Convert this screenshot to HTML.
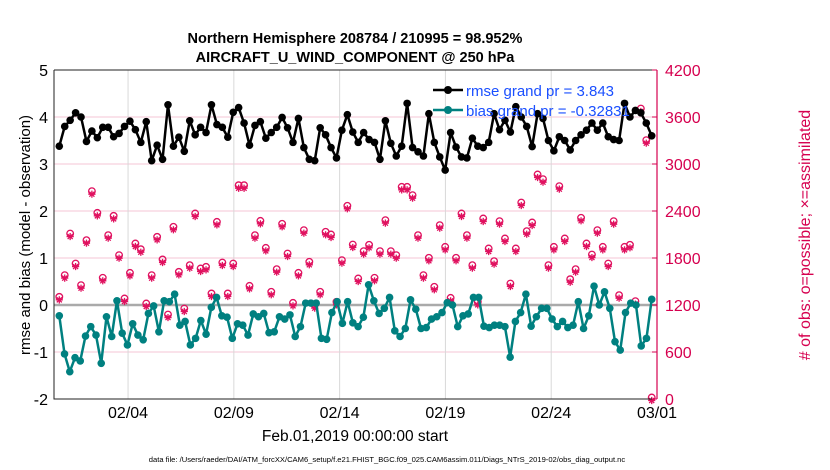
<!DOCTYPE html>
<html><head><meta charset="utf-8"><style>
body{margin:0;background:#fff;}
svg{display:block;font-family:"Liberation Sans",sans-serif;}
</style></head><body>
<svg id="c" width="830" height="470" viewBox="0 0 830 470">
<text x="355" y="43" font-size="14.5" font-weight="bold" text-anchor="middle">Northern Hemisphere 208784 / 210995 = 98.952%</text>
<text x="355" y="62" font-size="14.5" font-weight="bold" text-anchor="middle">AIRCRAFT_U_WIND_COMPONENT @ 250 hPa</text>
<g id="grid"></g><g id="marks"></g><g id="axes"></g>
<text transform="translate(30,235) rotate(-90)" font-size="15" text-anchor="middle">rmse and bias (model - observation)</text>
<text transform="translate(810,235) rotate(-90)" font-size="16" text-anchor="middle" fill="#d6004f"># of obs: o=possible; ×=assimilated</text>
<text x="355" y="441" font-size="15.5" text-anchor="middle">Feb.01,2019 00:00:00 start</text>
<text x="387" y="462" font-size="7.6" text-anchor="middle">data file: /Users/raeder/DAI/ATM_forcXX/CAM6_setup/f.e21.FHIST_BGC.f09_025.CAM6assim.011/Diags_NTrS_2019-02/obs_diag_output.nc</text>
<g>
<line x1="433" y1="90" x2="463" y2="90" stroke="#000" stroke-width="2.5"/>
<circle cx="448" cy="90" r="4" fill="#000"/>
<text x="466" y="96" font-size="15" fill="#1a4fff">rmse grand pr = 3.843</text>
<line x1="433" y1="110" x2="463" y2="110" stroke="#008080" stroke-width="2.5"/>
<circle cx="448" cy="110" r="4" fill="#008080"/>
<text x="466" y="116" font-size="15" fill="#1a4fff">bias grand pr = -0.32831</text>
</g>
</svg>
<script>
const rmse=[3.38,3.8,3.93,4.09,4.0,3.48,3.7,3.56,3.78,3.78,3.58,3.65,3.8,3.91,3.73,3.46,3.9,3.07,3.4,3.1,4.26,3.38,3.57,3.27,3.92,3.62,3.78,3.67,4.26,3.84,3.78,3.57,4.1,4.2,3.87,3.4,3.82,3.9,3.55,3.67,3.78,3.99,3.77,3.46,3.97,3.35,3.1,3.07,3.77,3.62,3.35,3.13,3.72,4.05,3.68,3.46,3.67,
3.52,3.46,3.1,3.92,3.44,3.17,3.38,4.29,3.35,3.26,3.17,4.07,3.46,3.15,2.87,3.67,3.36,3.15,3.13,3.55,3.38,3.35,3.46,4.07,3.73,3.93,3.68,4.22,4.0,3.8,3.37,4.07,3.97,3.5,3.28,3.58,3.5,3.3,3.5,3.62,3.72,3.87,3.72,3.87,3.58,3.52,3.5,4.29,4.0,4.14,4.09,3.87,3.6];
const bias=[-0.23,-1.04,-1.42,-1.12,-1.19,-0.66,-0.46,-0.64,-1.24,-0.25,-0.67,0.09,-0.6,-0.85,-0.4,-0.64,-0.74,-0.18,-0.02,-0.57,0.09,0.07,0.23,-0.43,-0.35,-0.85,-0.71,-0.33,-0.62,-0.05,0.16,-0.23,-0.26,-0.71,-0.4,-0.43,-0.64,-0.19,-0.25,-0.18,-0.59,-0.57,-0.25,-0.3,-0.21,-0.67,-0.46,0.04,0.04,0.04,-0.71,-0.73,-0.16,0.07,-0.39,0.07,-0.38,
-0.46,-0.26,0.43,0.09,-0.18,-0.07,0.16,-0.55,-0.67,-0.5,0.11,-0.09,-0.5,-0.48,-0.3,-0.25,-0.16,0.05,0.0,-0.46,-0.23,-0.19,0.16,0.16,-0.45,-0.48,-0.43,-0.43,-0.46,-1.11,-0.35,-0.16,0.23,-0.45,-0.25,-0.07,-0.07,-0.3,-0.46,-0.35,-0.48,-0.43,0.07,-0.5,-0.23,0.4,0.0,0.28,-0.07,-0.78,-0.96,-0.16,0.04,0.0,-0.87,-0.71,0.12];
const nposs=[1285,1562,2093,1710,1434,2008,2634,2357,1528,2072,2319,1817,1264,1591,1966,1893,1200,1562,2051,1762,1059,2179,1604,1136,1689,2349,1647,1668,1328,2242,1723,1328,1710,2710,2710,1425,2072,2255,1910,1349,1638,2217,1838,1208,1591,2136,1732,1179,1349,2115,2081,1221,1753,2447,1953,1519,1868,
1949,1528,1868,2264,1868,1817,2689,2689,2583,2072,1562,1783,1413,2200,1923,1272,1783,2349,2072,1689,1221,2285,1902,1740,2251,2030,1455,1902,2489,2123,2234,2847,2787,1689,1923,2698,2030,1510,1638,2294,1966,1825,2136,1923,1710,2251,1306,1923,1949,1230,3689,3285,0];
const xTickLabels=["02/04","02/09","02/14","02/19","02/24","03/01"];
const xTickDays=[3,8,13,18,23,28];
const yTicksL=[-2,-1,0,1,2,3,4,5];
const yTicksR=[0,600,1200,1800,2400,3000,3600,4200];
const NS="http://www.w3.org/2000/svg";
const X0=54,X1=657,Y0=399,Y1=70;
const xs=d=>X0+(d+0.5)/28.5*(X1-X0);
const yL=v=>Y0-(v+2)/7*(Y0-Y1);
const yR=v=>Y0-v/4200*(Y0-Y1);
function mk(tag,at,parent){const e=document.createElementNS(NS,tag);for(const k in at)e.setAttribute(k,at[k]);parent.appendChild(e);return e;}
const grid=document.getElementById('grid'),marks=document.getElementById('marks'),axes=document.getElementById('axes');
mk('rect',{x:X0,y:Y1,width:X1-X0,height:Y0-Y1,fill:'#fff'},grid);
yTicksR.forEach(v=>{const l=mk('line',{x1:X0,x2:X1,y1:yR(v),y2:yR(v),stroke:'#f4c6d6','stroke-width':1},grid);

});
xTickDays.forEach(d=>{const l=mk('line',{x1:xs(d),x2:xs(d),y1:Y1,y2:Y0,stroke:'#d8d8d8','stroke-width':1},grid);

});
const z=mk('line',{x1:X0,x2:X1,y1:yL(0),y2:yL(0),stroke:'#aaa','stroke-width':2.5},grid);


function tOf(i,n){return -0.25+i*(28.0/(n-1));}
nposs.forEach((v,i)=>{const x=xs(tOf(i,nposs.length)),y=yR(v);
const c=mk('circle',{cx:x,cy:y-1.5,r:3.3,fill:'none',stroke:'#e0115f','stroke-width':1.3},marks);


const r=3.6,cy=y+1.5;
const a=mk('path',{d:`M${x-r},${cy}H${x+r}M${x},${cy-r}V${cy+r}M${x-r*0.7},${cy-r*0.7}L${x+r*0.7},${cy+r*0.7}M${x-r*0.7},${cy+r*0.7}L${x+r*0.7},${cy-r*0.7}`,stroke:'#e0115f','stroke-width':1.3},marks);

});
function series(arr,color,name){
const pts=arr.map((v,i)=>[xs(tOf(i,arr.length)),yL(v)]);
const p=mk('polyline',{points:pts.map(p=>p.join(',')).join(' '),fill:'none',stroke:color,'stroke-width':2.5,'stroke-linejoin':'round'},marks);


pts.forEach(q=>{const c=mk('circle',{cx:q[0],cy:q[1],r:3.8,fill:color},marks);

});}
series(bias,'#008080','bias');
series(rmse,'#000','rmse');
mk('path',{d:`M${X0},${Y1}V${Y0}H${X1}`,fill:'none',stroke:'#222','stroke-width':1},axes);
mk('line',{x1:X0,x2:X1,y1:Y1,y2:Y1,stroke:'#222','stroke-width':1},axes);
mk('line',{x1:X1,x2:X1,y1:Y1,y2:Y0,stroke:'#d6004f','stroke-width':1.2},axes);
yTicksL.forEach(v=>{const t=mk('text',{x:X0-6,y:yL(v)+6,'font-size':16,'text-anchor':'end'},axes);t.textContent=v;

});
yTicksR.forEach(v=>{mk('line',{x1:X1-5,x2:X1,y1:yR(v),y2:yR(v),stroke:'#d6004f'},axes);
const t=mk('text',{x:X1+8,y:yR(v)+6,'font-size':16,fill:'#d6004f'},axes);t.textContent=v;

});
xTickDays.forEach((d,i)=>{const t=mk('text',{x:xs(d),y:418,'font-size':16,'text-anchor':'middle'},axes);t.textContent=xTickLabels[i];

});
</script>
</body></html>
